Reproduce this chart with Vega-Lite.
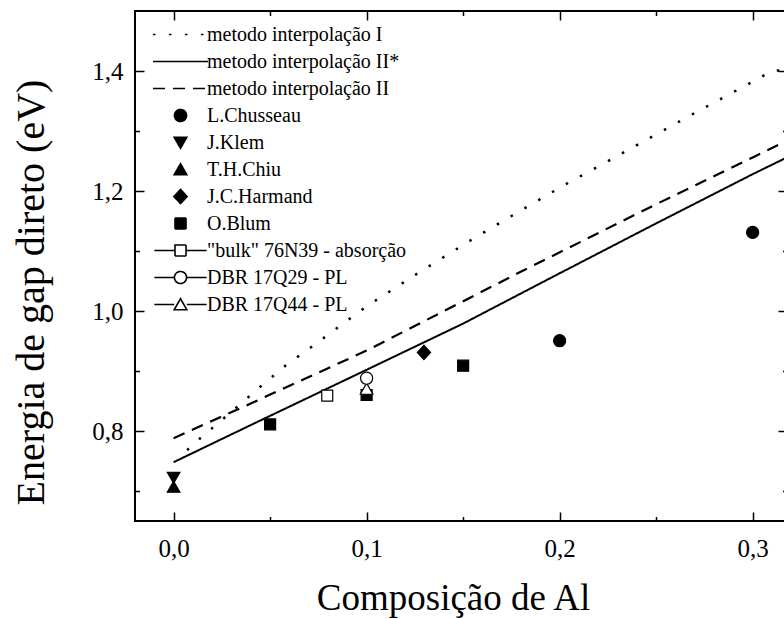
{
  "$schema": "https://vega.github.io/schema/vega-lite/v6.json",
  "width": 652,
  "height": 510,
  "autosize": {"type": "none"},
  "padding": {"left": 135, "top": 11, "right": 0, "bottom": 98},
  "background": "white",
  "config": {
    "view": {"stroke": "black", "strokeWidth": 2},
    "axis": {
      "domain": false,
      "grid": false,
      "tickColor": "black",
      "tickWidth": 1.5,
      "labelColor": "black",
      "titleColor": "black",
      "labelFont": "Liberation Serif",
      "titleFont": "Liberation Serif",
      "titleFontWeight": "normal",
      "labelFlush": false,
      "labelOverlap": false
    }
  },
  "datasets": {
    "curves": [
      {"series": "metodo interpolação I", "x": 0.007, "y": 0.768},
      {"series": "metodo interpolação I", "x": 0.0145, "y": 0.79},
      {"series": "metodo interpolação I", "x": 0.0212, "y": 0.808},
      {"series": "metodo interpolação I", "x": 0.0368, "y": 0.851},
      {"series": "metodo interpolação I", "x": 0.0435, "y": 0.87},
      {"series": "metodo interpolação I", "x": 0.058, "y": 0.909},
      {"series": "metodo interpolação I", "x": 0.0722, "y": 0.942},
      {"series": "metodo interpolação I", "x": 0.0869, "y": 0.977},
      {"series": "metodo interpolação I", "x": 0.101, "y": 1.01},
      {"series": "metodo interpolação I", "x": 0.13, "y": 1.07},
      {"series": "metodo interpolação I", "x": 0.155, "y": 1.12},
      {"series": "metodo interpolação I", "x": 0.1807, "y": 1.169},
      {"series": "metodo interpolação I", "x": 0.2022, "y": 1.2095},
      {"series": "metodo interpolação I", "x": 0.224, "y": 1.248},
      {"series": "metodo interpolação I", "x": 0.2457, "y": 1.2867},
      {"series": "metodo interpolação I", "x": 0.2674, "y": 1.3255},
      {"series": "metodo interpolação I", "x": 0.289, "y": 1.363},
      {"series": "metodo interpolação I", "x": 0.3033, "y": 1.388},
      {"series": "metodo interpolação I", "x": 0.31, "y": 1.4},
      {"series": "metodo interpolação I", "x": 0.3178, "y": 1.402},
      {"series": "metodo interpolação II*", "x": 0.0, "y": 0.748},
      {"series": "metodo interpolação II*", "x": 0.0394, "y": 0.809},
      {"series": "metodo interpolação II*", "x": 0.1, "y": 0.902},
      {"series": "metodo interpolação II*", "x": 0.15, "y": 0.979},
      {"series": "metodo interpolação II*", "x": 0.1965, "y": 1.057},
      {"series": "metodo interpolação II*", "x": 0.25, "y": 1.146},
      {"series": "metodo interpolação II*", "x": 0.3, "y": 1.228},
      {"series": "metodo interpolação II*", "x": 0.3178, "y": 1.256},
      {"series": "metodo interpolação II", "x": 0.0, "y": 0.788},
      {"series": "metodo interpolação II", "x": 0.0394, "y": 0.845},
      {"series": "metodo interpolação II", "x": 0.1, "y": 0.934},
      {"series": "metodo interpolação II", "x": 0.1793, "y": 1.0645},
      {"series": "metodo interpolação II", "x": 0.25, "y": 1.178},
      {"series": "metodo interpolação II", "x": 0.3, "y": 1.256},
      {"series": "metodo interpolação II", "x": 0.3178, "y": 1.284}
    ],
    "points": [
      {"series": "L.Chusseau", "x": 0.2, "y": 0.9505},
      {"series": "L.Chusseau", "x": 0.3, "y": 1.131},
      {"series": "J.Klem", "x": 0.0, "y": 0.7225},
      {"series": "T.H.Chiu", "x": 0.0, "y": 0.7067},
      {"series": "J.C.Harmand", "x": 0.1297, "y": 0.931},
      {"series": "O.Blum", "x": 0.05, "y": 0.811},
      {"series": "O.Blum", "x": 0.1, "y": 0.86},
      {"series": "O.Blum", "x": 0.15, "y": 0.9088},
      {"series": "\"bulk\"  76N39 - absorção", "x": 0.0796, "y": 0.859},
      {"series": "DBR 17Q44 - PL", "x": 0.1, "y": 0.87},
      {"series": "DBR 17Q29 - PL", "x": 0.1, "y": 0.888}
    ]
  },
  "layer": [
    {
      "data": {"name": "curves"},
      "transform": [{"filter": "datum.series == 'metodo interpolação I'"}],
      "mark": {"type": "line", "color": "black", "strokeWidth": 2.5, "strokeCap": "butt"},
      "encoding": {
        "x": {
          "field": "x", "type": "quantitative",
          "scale": {"domain": [-0.02, 0.3178], "nice": false, "zero": false},
          "axis": {
            "orient": "bottom", "values": [0, 0.1, 0.2, 0.3],
            "labelExpr": "replace(format(datum.value, '.1f'), '.', ',')",
            "tickSize": -9, "labelPadding": 24, "labelFontSize": 25, "labelFont": "Liberation Serif",
            "title": "Composição de Al", "titleFontSize": 37, "titleFont": "Liberation Serif",
            "titleX": 318, "titleY": 88, "titleBaseline": "alphabetic", "titleAlign": "center"
          }
        },
        "y": {
          "field": "y", "type": "quantitative",
          "scale": {"domain": [0.65, 1.5], "nice": false, "zero": false},
          "axis": {
            "orient": "left", "values": [0.8, 1.0, 1.2, 1.4],
            "labelExpr": "replace(format(datum.value, '.1f'), '.', ',')",
            "tickSize": -9, "labelPadding": 21, "labelFontSize": 25, "labelFont": "Liberation Serif",
            "title": "Energia de gap direto (eV)", "titleFontSize": 40, "titleFont": "Liberation Serif",
            "titleX": -92, "titleY": 281, "titleAngle": 270,
            "titleBaseline": "alphabetic", "titleAlign": "center"
          }
        },
        "strokeDash": {
          "field": "series", "type": "nominal",
          "scale": {
            "domain": ["DBR 17Q44 - PL", "DBR 17Q29 - PL", "\"bulk\"  76N39 - absorção", "O.Blum", "J.C.Harmand", "T.H.Chiu", "J.Klem", "L.Chusseau", "metodo interpolação II", "metodo interpolação II*", "metodo interpolação I"],
            "range": [[1, 0], [1, 0], [1, 0], [1, 0], [1, 0], [1, 0], [1, 0], [1, 0], [12, 8], [1, 0], [2.5, 13.5]]
          },
          "legend": null
        }
      }
    },
    {
      "data": {"name": "curves"},
      "transform": [{"filter": "datum.series == 'metodo interpolação II*'"}],
      "mark": {"type": "line", "color": "black", "strokeWidth": 2},
      "encoding": {
        "x": {
          "field": "x", "type": "quantitative",
          "scale": {"domain": [-0.02, 0.3178], "nice": false, "zero": false},
          "axis": {"orient": "bottom", "values": [0.05, 0.15, 0.25], "labels": false, "tickSize": -4.5, "title": null}
        },
        "y": {
          "field": "y", "type": "quantitative",
          "scale": {"domain": [0.65, 1.5], "nice": false, "zero": false},
          "axis": {"orient": "left", "values": [0.7, 0.9, 1.1, 1.3], "labels": false, "tickSize": -4.5, "title": null}
        },
        "strokeDash": {"field": "series", "type": "nominal", "legend": null}
      }
    },
    {
      "data": {"name": "curves"},
      "transform": [{"filter": "datum.series == 'metodo interpolação II'"}],
      "mark": {"type": "line", "color": "black", "strokeWidth": 2.2, "strokeCap": "butt"},
      "encoding": {
        "x": {
          "field": "x", "type": "quantitative",
          "scale": {"domain": [-0.02, 0.3178], "nice": false, "zero": false},
          "axis": {"orient": "top", "values": [0, 0.1, 0.2, 0.3], "labels": false, "tickSize": -9, "title": null}
        },
        "y": {
          "field": "y", "type": "quantitative",
          "scale": {"domain": [0.65, 1.5], "nice": false, "zero": false},
          "axis": {"orient": "right", "values": [0.8, 1.0, 1.2, 1.4], "labels": false, "tickSize": -9, "title": null}
        },
        "strokeDash": {"field": "series", "type": "nominal", "legend": null}
      }
    },
    {
      "data": {"name": "points"},
      "transform": [{"filter": "indexof(['L.Chusseau', 'J.Klem', 'T.H.Chiu', 'J.C.Harmand', 'O.Blum'], datum.series) >= 0"}],
      "mark": {"type": "point", "size": 3025, "opacity": 1, "stroke": "black", "strokeWidth": 1.2},
      "encoding": {
        "x": {
          "field": "x", "type": "quantitative",
          "scale": {"domain": [-0.02, 0.3178], "nice": false, "zero": false},
          "axis": {"orient": "top", "values": [0.05, 0.15, 0.25], "labels": false, "tickSize": -4.5, "title": null}
        },
        "y": {
          "field": "y", "type": "quantitative",
          "scale": {"domain": [0.65, 1.5], "nice": false, "zero": false},
          "axis": {"orient": "right", "values": [0.7, 0.9, 1.1, 1.3], "labels": false, "tickSize": -4.5, "title": null}
        },
        "fill": {
          "field": "series", "type": "nominal",
          "scale": {
            "domain": ["DBR 17Q44 - PL", "DBR 17Q29 - PL", "\"bulk\"  76N39 - absorção", "O.Blum", "J.C.Harmand", "T.H.Chiu", "J.Klem", "L.Chusseau", "metodo interpolação II", "metodo interpolação II*", "metodo interpolação I"],
            "range": ["white", "white", "white", "black", "black", "black", "black", "black", "black", "black", "black"]
          },
          "legend": null
        },
        "shape": {
          "field": "series", "type": "nominal",
          "scale": {
            "domain": ["metodo interpolação I", "metodo interpolação II*", "metodo interpolação II", "L.Chusseau", "J.Klem", "T.H.Chiu", "J.C.Harmand", "O.Blum", "\"bulk\"  76N39 - absorção", "DBR 17Q29 - PL", "DBR 17Q44 - PL"],
            "range": [
              "M-1,0H1", "M-1,0H1", "M-1,0H1",
              "M-0.22,0A0.22,0.22,0,1,1,0.22,0A0.22,0.22,0,1,1,-0.22,0Z",
              "M-0.23,-0.19L0.23,-0.19L0,0.21Z",
              "M-0.23,0.19L0.23,0.19L0,-0.21Z",
              "M0,-0.26L0.24,0L0,0.26L-0.24,0Z",
              "M-0.2,-0.2H0.2V0.2H-0.2Z",
              "M-0.95,0H-0.2M0.2,0H0.95M-0.2,-0.2H0.2V0.2H-0.2Z",
              "M-0.95,0H-0.22M0.22,0H0.95M-0.22,0A0.22,0.22,0,1,1,0.22,0A0.22,0.22,0,1,1,-0.22,0Z",
              "M-0.95,0H-0.23M0.23,0H0.95M-0.23,0.19L0.23,0.19L0,-0.21Z"
            ]
          },
          "legend": {
            "orient": "none", "legendX": 17, "legendY": 10, "title": null, "padding": 0,
            "symbolSize": 3025, "clipHeight": 27, "rowPadding": 0,
            "labelFont": "Liberation Serif", "labelFontSize": 20, "labelColor": "black",
            "labelOffset": -2, "symbolOffset": 0, "labelLimit": 400,
            "symbolStrokeWidth": 1.6, "symbolStrokeColor": "black",
            "encoding": {
              "symbols": {
                "fill": {"value": {"expr": "scale('fill', datum.value)"}},
                "strokeDash": {"value": {"expr": "scale('strokeDash', datum.value)"}},
                "stroke": {"value": "black"},
                "strokeWidth": {"value": 1.6},
                "opacity": {"value": 1}
              }
            }
          }
        }
      }
    },
    {
      "data": {"name": "points"},
      "transform": [{"filter": "datum.series == '\"bulk\"  76N39 - absorção'"}],
      "mark": {"type": "point", "shape": "M-0.2,-0.2H0.2V0.2H-0.2Z", "size": 3025, "opacity": 1, "filled": false, "fill": "white", "stroke": "black", "strokeWidth": 1.2},
      "encoding": {
        "x": {"field": "x", "type": "quantitative", "axis": null},
        "y": {"field": "y", "type": "quantitative", "axis": null}
      }
    },
    {
      "data": {"name": "points"},
      "transform": [{"filter": "datum.series == 'DBR 17Q44 - PL'"}],
      "mark": {"type": "point", "shape": "M-0.23,0.19L0.23,0.19L0,-0.21Z", "size": 3025, "opacity": 1, "filled": false, "fill": "white", "stroke": "black", "strokeWidth": 1.2},
      "encoding": {
        "x": {"field": "x", "type": "quantitative", "axis": null},
        "y": {"field": "y", "type": "quantitative", "axis": null}
      }
    },
    {
      "data": {"name": "points"},
      "transform": [{"filter": "datum.series == 'DBR 17Q29 - PL'"}],
      "mark": {"type": "point", "shape": "M-0.22,0A0.22,0.22,0,1,1,0.22,0A0.22,0.22,0,1,1,-0.22,0Z", "size": 3025, "opacity": 1, "filled": false, "fill": "white", "stroke": "black", "strokeWidth": 1.2},
      "encoding": {
        "x": {"field": "x", "type": "quantitative", "axis": null},
        "y": {"field": "y", "type": "quantitative", "axis": null}
      }
    }
  ],
  "resolve": {"axis": {"x": "independent", "y": "independent"}}
}
